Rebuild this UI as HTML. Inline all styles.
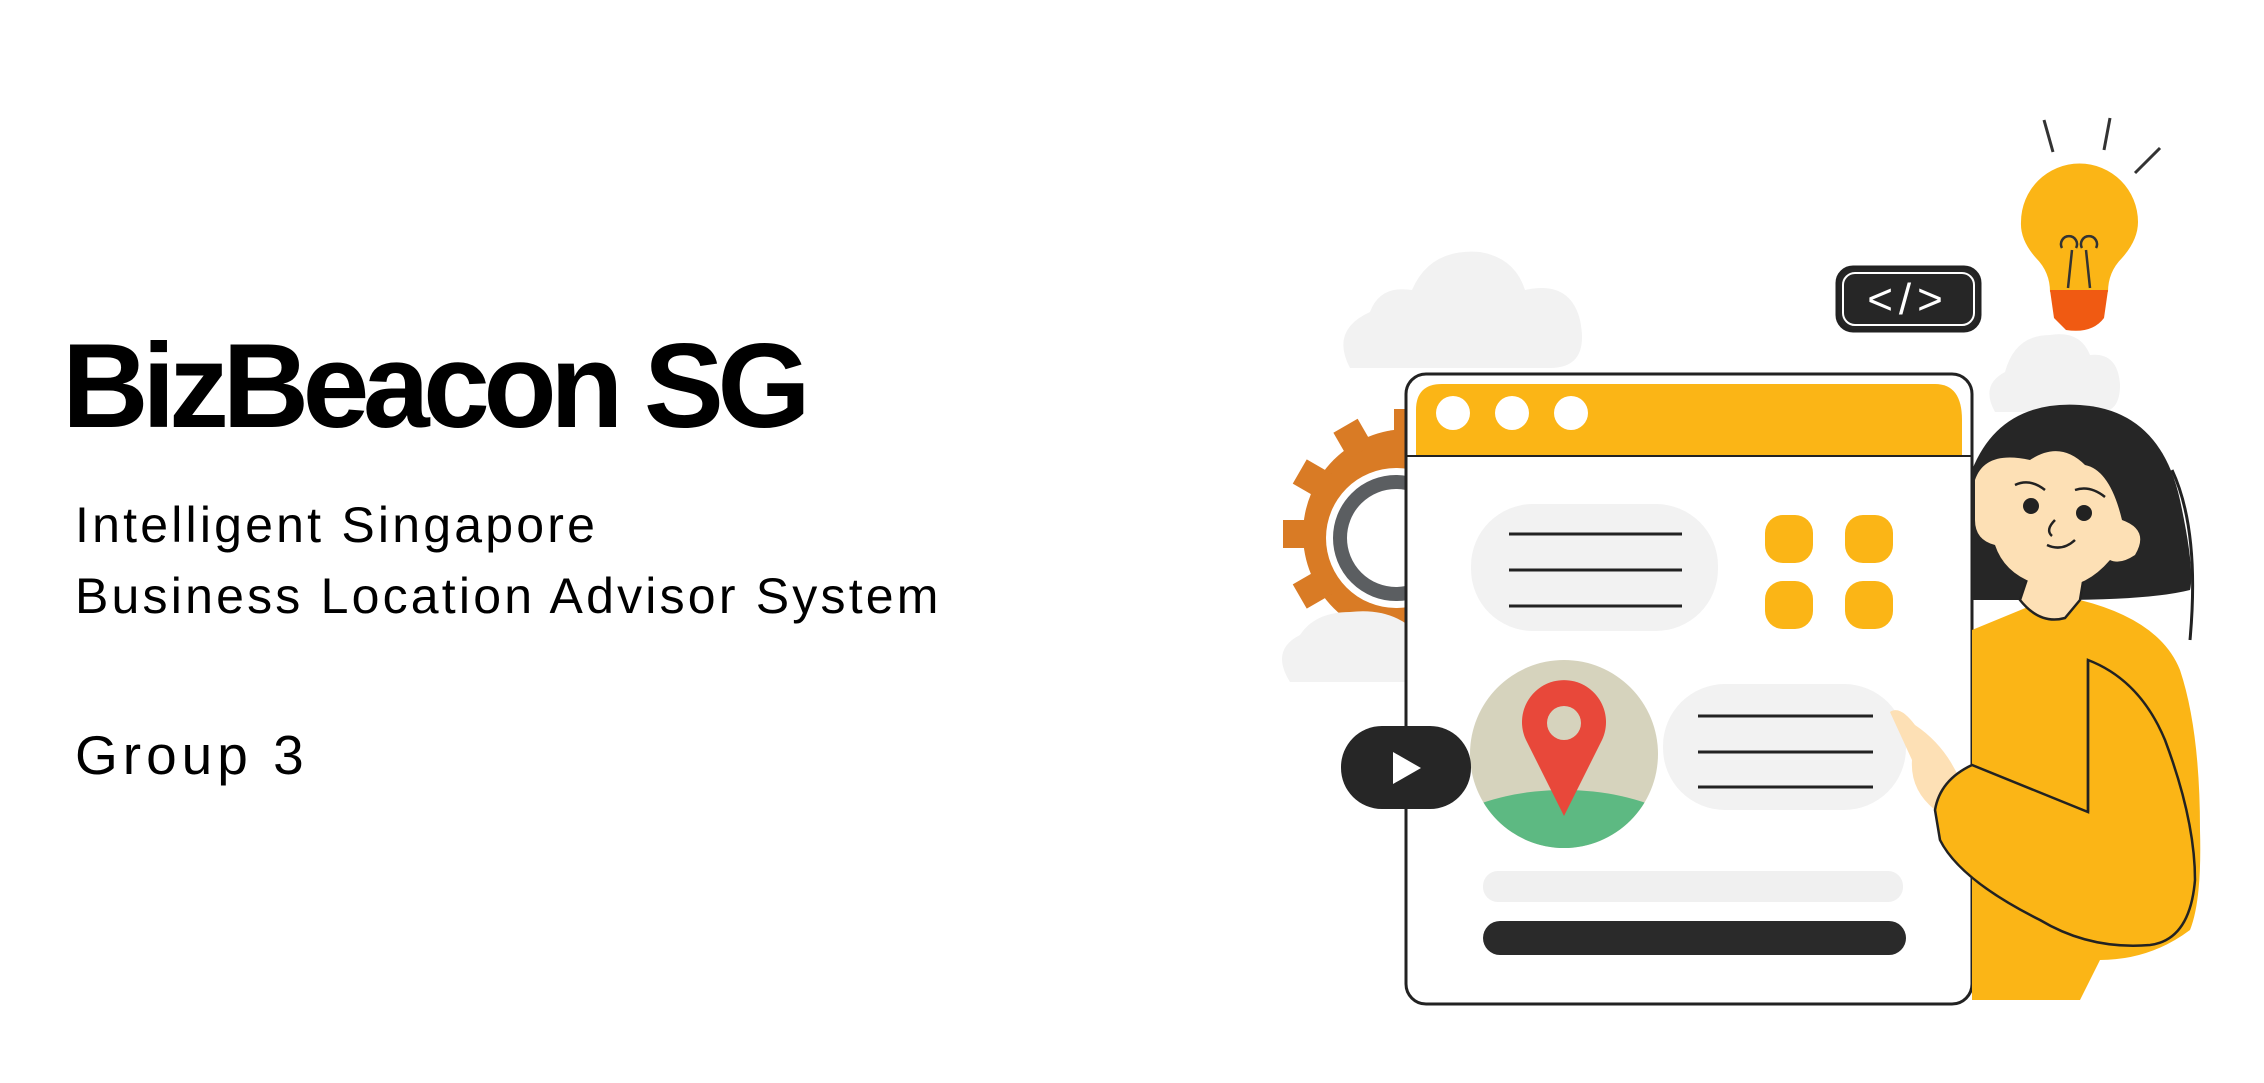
<!DOCTYPE html>
<html><head><meta charset="utf-8"><style>
html,body{margin:0;padding:0;background:#fff;}
body{width:2264px;height:1083px;position:relative;overflow:hidden;font-family:"Liberation Sans",sans-serif;color:#000;}
.t{position:absolute;white-space:nowrap;}
</style></head><body>
<div class="t" style="left:62px;top:318px;font-size:120px;font-weight:bold;letter-spacing:-6.5px;line-height:136px;">BizBeacon SG</div>
<div class="t" style="left:75px;top:490px;font-size:50px;letter-spacing:3.2px;line-height:71px;">Intelligent Singapore<br>Business Location Advisor System</div>
<div class="t" style="left:75px;top:720px;font-size:55px;letter-spacing:5px;line-height:70px;">Group 3</div>
<svg style="position:absolute;left:0;top:0" width="2264" height="1083" viewBox="0 0 2264 1083">
<g fill="#f2f2f2">
<path d="M1350 368 Q1330 330 1370 312 Q1380 285 1412 290 Q1430 248 1480 252 Q1515 258 1525 290 Q1570 280 1580 320 Q1590 368 1550 368 Z"/>
<path d="M1995 412 Q1980 385 2005 372 Q2015 335 2050 335 Q2080 330 2090 355 Q2118 352 2120 385 Q2120 412 2100 412 Z"/>
</g>
<g transform="translate(1408,534)">
<circle r="105" fill="#d97b25"/>
<g fill="#d97b25">
<rect x="-14" y="-125" width="28" height="30" transform="rotate(0)"/>
<rect x="-14" y="-125" width="28" height="30" transform="rotate(30)"/>
<rect x="-14" y="-125" width="28" height="30" transform="rotate(60)"/>
<rect x="-14" y="-125" width="28" height="30" transform="rotate(90)"/>
<rect x="-14" y="-125" width="28" height="30" transform="rotate(120)"/>
<rect x="-14" y="-125" width="28" height="30" transform="rotate(150)"/>
<rect x="-14" y="-125" width="28" height="30" transform="rotate(180)"/>
<rect x="-14" y="-125" width="28" height="30" transform="rotate(210)"/>
<rect x="-14" y="-125" width="28" height="30" transform="rotate(240)"/>
<rect x="-14" y="-125" width="28" height="30" transform="rotate(270)"/>
<rect x="-14" y="-125" width="28" height="30" transform="rotate(300)"/>
<rect x="-14" y="-125" width="28" height="30" transform="rotate(330)"/>
</g>
<circle cx="-12" cy="4" r="70" fill="#fff"/>
<circle cx="-12" cy="4" r="56" fill="none" stroke="#5b5e61" stroke-width="14"/>
</g>
<path d="M1290 682 Q1270 650 1300 635 Q1315 612 1350 612 Q1385 608 1408 625 L1408 682 Z" fill="#f2f2f2"/>
<rect x="1406" y="374" width="566" height="630" rx="20" fill="#fff" stroke="#222" stroke-width="3"/>
<path d="M1416 455 L1416 410 Q1416 384 1442 384 L1935 384 Q1962 384 1962 420 L1962 455 Z" fill="#fbb516"/>
<line x1="1406" y1="456" x2="1972" y2="456" stroke="#222" stroke-width="2"/>
<g fill="#fff"><circle cx="1453" cy="413" r="17"/><circle cx="1512" cy="413" r="17"/><circle cx="1571" cy="413" r="17"/></g>
<rect x="1471" y="504" width="247" height="127" rx="62" fill="#f2f2f2"/>
<g stroke="#222" stroke-width="3"><line x1="1509" y1="534" x2="1682" y2="534"/><line x1="1509" y1="570" x2="1682" y2="570"/><line x1="1509" y1="606" x2="1682" y2="606"/></g>
<g fill="#fbb516"><rect x="1765" y="515" width="48" height="48" rx="18"/><rect x="1845" y="515" width="48" height="48" rx="18"/><rect x="1765" y="581" width="48" height="48" rx="18"/><rect x="1845" y="581" width="48" height="48" rx="18"/></g>
<clipPath id="mc"><circle cx="1564" cy="754" r="94"/></clipPath>
<g clip-path="url(#mc)"><rect x="1460" y="650" width="210" height="210" fill="#d6d3bd"/><ellipse cx="1564" cy="870" rx="150" ry="80" fill="#5db982"/></g>
<path d="M1564 816 L1526 740 A42 42 0 1 1 1602 740 Z" fill="#e8483a"/>
<circle cx="1564" cy="723" r="17" fill="#d6d3bd"/>
<rect x="1663" y="684" width="243" height="126" rx="62" fill="#f2f2f2"/>
<g stroke="#222" stroke-width="3"><line x1="1698" y1="716" x2="1873" y2="716"/><line x1="1698" y1="752" x2="1873" y2="752"/><line x1="1698" y1="787" x2="1873" y2="787"/></g>
<rect x="1341" y="726" width="130" height="83" rx="41" fill="#262626"/>
<path d="M1393 752 L1393 784 L1421 768 Z" fill="#fff"/>
<rect x="1483" y="871" width="420" height="31" rx="15" fill="#f0f0f0"/>
<rect x="1483" y="921" width="423" height="34" rx="17" fill="#2a2a2a"/>
<rect x="1837" y="267" width="143" height="64" rx="16" fill="#262626" stroke="#222" stroke-width="3"/>
<rect x="1843" y="273" width="131" height="52" rx="12" fill="none" stroke="#fff" stroke-width="2"/>
<text x="1908" y="314" font-family="Liberation Sans,sans-serif" font-size="44" fill="#fff" text-anchor="middle" letter-spacing="6">&lt;/&gt;</text>
<g stroke="#333" stroke-width="3"><line x1="2044" y1="120" x2="2053" y2="152"/><line x1="2110" y1="118" x2="2104" y2="150"/><line x1="2160" y1="148" x2="2135" y2="173"/></g>
<path d="M2050 292 Q2050 272 2036 258 Q2020 240 2021 222 A58 58 0 1 1 2138 222 Q2138 240 2122 258 Q2108 272 2108 292 Z" fill="#fbb516"/>
<path d="M2068 288 L2072 250 M2090 288 L2086 250 M2062 248 a8 8 0 1 1 14 0 M2082 248 a8 8 0 1 1 14 0" stroke="#333" stroke-width="2.5" fill="none"/>
<path d="M2050 290 L2108 290 L2104 318 Q2092 334 2066 330 L2054 318 Z" fill="#f05a12"/>
<path d="M2172 470 Q2200 530 2190 640" stroke="#222" stroke-width="3" fill="none"/>
<path d="M1972 470 Q2000 400 2080 405 Q2160 410 2180 500 Q2195 570 2190 590 Q2150 600 2060 600 L1972 600 Z" fill="#262626"/>
<path d="M1972 630 L2045 600 L2080 600 Q2160 620 2180 670 Q2200 730 2200 830 Q2202 900 2190 930 Q2150 960 2100 960 L2080 1000 L1972 1000 Z" fill="#fbb516"/>
<path d="M2020 600 Q2040 625 2065 618 L2080 600 L2085 570 L2030 570 Z" fill="#fde0b5" stroke="#222" stroke-width="2.5"/>
<path d="M1975 480 Q1985 450 2030 460 Q2060 440 2085 465 Q2110 470 2122 520 Q2150 530 2135 555 Q2120 565 2110 560 Q2080 595 2040 585 Q2005 575 1995 545 Q1975 540 1975 520 Z" fill="#fde0b5"/>
<circle cx="2031" cy="506" r="8" fill="#222"/><circle cx="2084" cy="513" r="8" fill="#222"/>
<path d="M2015 485 Q2030 478 2045 490 M2075 490 Q2090 485 2105 497" stroke="#222" stroke-width="2.5" fill="none"/>
<path d="M2055 520 Q2045 530 2052 536 M2047 545 Q2062 552 2075 540" stroke="#222" stroke-width="2.5" fill="none"/>
<path d="M1890 712 Q1900 705 1915 725 Q1945 745 1960 780 L1935 810 Q1910 790 1912 760 Z" fill="#fde0b5"/>
<path d="M1935 810 Q1940 780 1972 765 L2088 812 L2088 660 Q2140 680 2165 740 Q2195 820 2195 880 Q2190 940 2150 945 Q2090 950 2040 920 Q1960 880 1940 840 Z" fill="#fbb516" stroke="#222" stroke-width="2.5"/>
<line x1="2088" y1="660" x2="2088" y2="812" stroke="#222" stroke-width="2.5"/>
</svg>
</body></html>
